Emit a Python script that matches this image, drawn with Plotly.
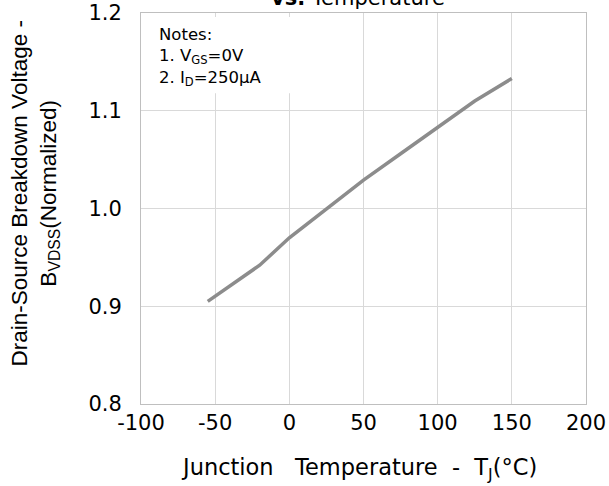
import plotly.graph_objects as go

# Data
temperature = [-55, -20, 0, 25, 50, 75, 100, 125, 150]
bvdss_norm = [0.905, 0.942, 0.970, 1.000, 1.029, 1.056, 1.083, 1.110, 1.133]

x_ticks = [-100, -50, 0, 50, 100, 150, 200]
x_ticktext = ["-100", "-50", "0", "50", "100", "150", "200"]
y_ticks = [0.8, 0.9, 1.0, 1.1, 1.2]
y_ticktext = ["0.8", "0.9", "1.0", "1.1", "1.2"]

note_lines = ["Notes:", "1. V<sub>GS</sub>=0V", "2. I<sub>D</sub>=250μA"]
note_y = [1.1785, 1.155, 1.1325]

FONT = "DejaVu Sans"
GRID = "#d9d9d9"
BORDER = "#bfbfbf"
NB = "\u00a0"

fig = go.Figure()
fig.add_trace(go.Scatter(
    x=temperature, y=bvdss_norm, mode="lines",
    line=dict(color="#8c8c8c", width=3.5),
    showlegend=False, hoverinfo="skip",
))

fig.update_layout(
    width=609, height=486,
    margin=dict(l=141, r=23, t=13, b=82, autoexpand=False),
    paper_bgcolor="white", plot_bgcolor="white",
    font=dict(family=FONT, color="black"),
    xaxis=dict(
        range=[-100, 200], tickvals=x_ticks, ticktext=x_ticktext,
        showgrid=True, gridcolor=GRID, gridwidth=1,
        showline=True, linecolor=BORDER, linewidth=1, mirror=True,
        ticks="", automargin=False,
        tickfont=dict(family=FONT, size=21, color="black"),
        zeroline=False,
    ),
    yaxis=dict(
        range=[0.8, 1.2], tickvals=y_ticks, ticktext=y_ticktext,
        showgrid=True, gridcolor=GRID, gridwidth=1,
        showline=True, linecolor=BORDER, linewidth=1, mirror=True,
        ticks="outside", ticklen=14, tickcolor="rgba(0,0,0,0)",
        automargin=False,
        tickfont=dict(family=FONT, size=21, color="black"),
        zeroline=False,
    ),
)

# X-axis title
fig.add_annotation(
    xref="paper", yref="paper", x=0.5, y=0, xanchor="center", yanchor="middle",
    xshift=-5, yshift=-65,
    text=f"Junction{NB*3}Temperature{NB*2}-{NB*2}T<sub>J</sub>(°C)",
    showarrow=False, font=dict(family=FONT, size=22.5, color="black"),
)

# Y-axis title (two rotated lines)
fig.add_annotation(
    xref="paper", yref="paper", x=0, y=0.5, xanchor="center", yanchor="middle",
    xshift=-106, yshift=15,
    text="Drain-Source Breakdown Voltage -<br>B<sub>VDSS</sub>(Normalized)",
    textangle=-90, showarrow=False,
    font=dict(family="Liberation Sans", size=22.5, color="black"),
)

# Notes box
fig.add_shape(type="rect", xref="x", yref="y", x0=-99.3, x1=10, y0=1.118, y1=1.196,
              fillcolor="white", line=dict(width=0), layer="between")
for line_text, yv in zip(note_lines, note_y):
    fig.add_annotation(
        xref="x", yref="y", x=-89, y=yv, xanchor="left", yanchor="middle",
        text=line_text, align="left", showarrow=False,
        font=dict(family=FONT, size=16.5, color="black"),
    )

# Title, clipped at the top of the page as in the reference
fig.add_annotation(
    xref="paper", yref="paper", x=0.5, y=1, xanchor="center", yanchor="middle",
    xshift=-6, yshift=15, text="<b>vs.</b> Temperature", showarrow=False,
    font=dict(family=FONT, size=21, color="black"),
)

fig.write_html(
    "out.html",
    config={"displayModeBar": False},
    post_script="document.body.style.margin='0';document.body.style.overflow='hidden';",
)
